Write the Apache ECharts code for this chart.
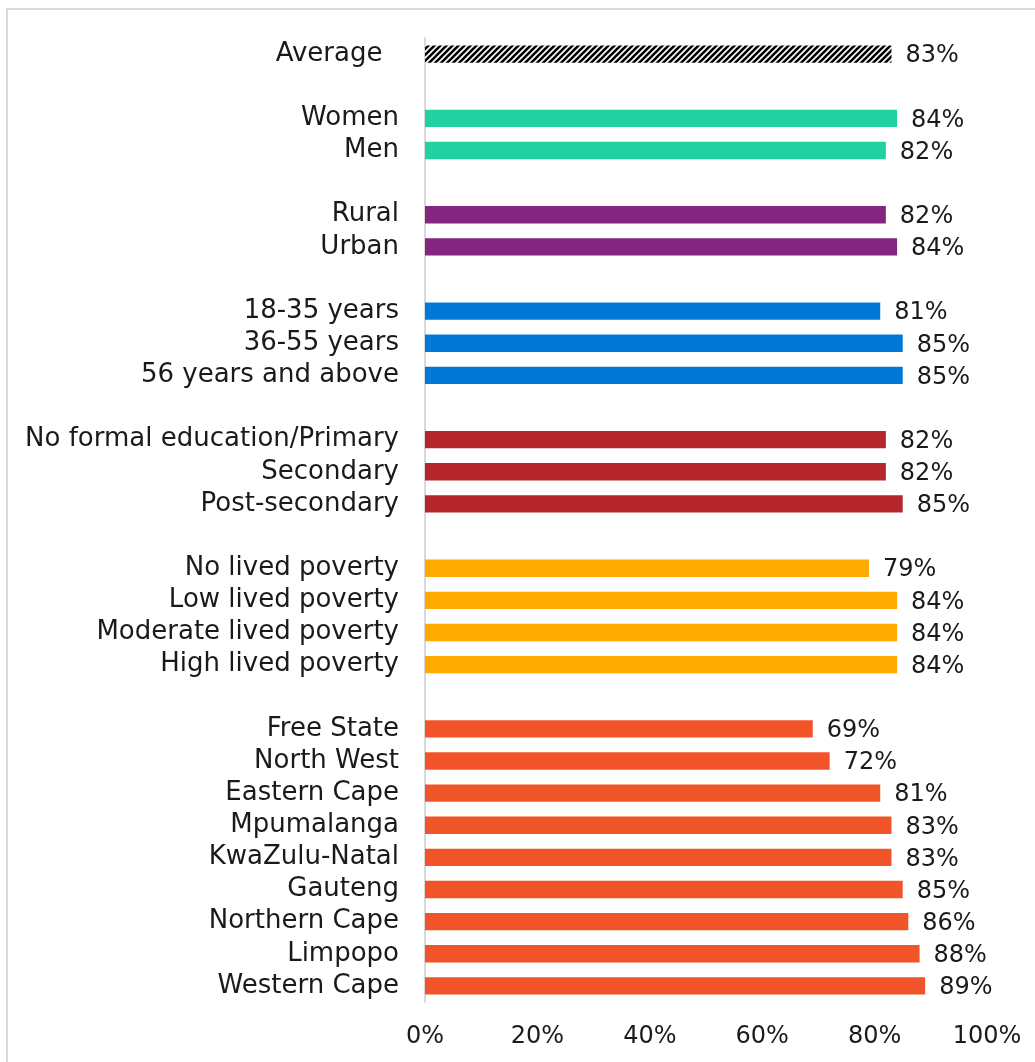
<!DOCTYPE html>
<html>
<head>
<meta charset="utf-8">
<script src="https://cdn.jsdelivr.net/npm/echarts@6/dist/echarts.min.js"></script>
<style>
  html, body { margin: 0; padding: 0; background: #fff; overflow: hidden; }
  #frame { position: absolute; left: 6px; top: 8px; width: 1100px; height: 1100px;
           border-left: 2px solid #d9d9d9; border-top: 2px solid #d9d9d9; }
  #chart { position: absolute; left: 0; top: 0; width: 1035px; height: 1062px; }
</style>
</head>
<body>
<div id="frame"></div>
<div id="chart"></div>
<script>
// Share of respondents, by group (%)
const averageLabels = ['Average'];
const averageValues = [83];

const genderLabels = ['Women', 'Men'];
const genderValues = [84, 82];

const settlementLabels = ['Rural', 'Urban'];
const settlementValues = [82, 84];

const ageLabels = ['18-35 years', '36-55 years', '56 years and above'];
const ageValues = [81, 85, 85];

const educationLabels = ['No formal education/Primary', 'Secondary', 'Post-secondary'];
const educationValues = [82, 82, 85];

const povertyLabels = ['No lived poverty', 'Low lived poverty', 'Moderate lived poverty', 'High lived poverty'];
const povertyValues = [79, 84, 84, 84];

const provinceLabels = ['Free State', 'North West', 'Eastern Cape', 'Mpumalanga', 'KwaZulu-Natal',
                        'Gauteng', 'Northern Cape', 'Limpopo', 'Western Cape'];
const provinceValues = [69, 72, 81, 83, 83, 85, 86, 88, 89];

const xTicks = [0, 20, 40, 60, 80, 100];

// Diagonal hatch used for the average bar
function hatchPattern() {
  const c = document.createElement('canvas');
  c.width = 6; c.height = 6;
  const g = c.getContext('2d');
  g.fillStyle = '#ffffff';
  g.fillRect(0, 0, 6, 6);
  g.strokeStyle = '#000000';
  g.lineWidth = 2.6;
  g.beginPath();
  g.moveTo(-1, 7); g.lineTo(7, -1);
  g.moveTo(-4, 4); g.lineTo(4, -4);
  g.moveTo(2, 10); g.lineTo(10, 2);
  g.stroke();
  return { image: c, repeat: 'repeat' };
}

const groups = [
  { labels: averageLabels, values: averageValues, color: hatchPattern() },
  { labels: genderLabels, values: genderValues, color: '#23D0A0' },
  { labels: settlementLabels, values: settlementValues, color: '#84267F' },
  { labels: ageLabels, values: ageValues, color: '#0078D7' },
  { labels: educationLabels, values: educationValues, color: '#B5262D' },
  { labels: povertyLabels, values: povertyValues, color: '#FFAA00' },
  { labels: provinceLabels, values: provinceValues, color: '#F2542A' }
];

// Flatten groups into one category list, with an empty row between groups
const categories = [];
const barData = [];
groups.forEach((grp, gi) => {
  if (gi > 0) {
    categories.push(' '.repeat(gi));
    barData.push('-');
  }
  grp.labels.forEach((name, i) => {
    categories.push(name);
    barData.push({ value: grp.values[i], itemStyle: { color: grp.color } });
  });
});

const FONT = 'DejaVu Sans';
const chart = echarts.init(document.getElementById('chart'), null, { renderer: 'canvas' });
chart.setOption({
  animation: false,
  backgroundColor: 'transparent',
  grid: { left: 425, right: 48, top: 38, bottom: 60, containLabel: false },
  xAxis: {
    type: 'value',
    min: xTicks[0],
    max: xTicks[xTicks.length - 1],
    interval: xTicks[1] - xTicks[0],
    axisLine: { show: false },
    axisTick: { show: false },
    splitLine: { show: false },
    axisLabel: {
      formatter: '{value}%',
      fontFamily: FONT,
      fontSize: 24,
      color: '#1a1a1a',
      margin: 23
    }
  },
  yAxis: {
    type: 'category',
    inverse: true,
    data: categories,
    axisLine: { show: true, lineStyle: { color: '#d9d9d9', width: 2 } },
    axisTick: { show: false },
    splitLine: { show: false },
    axisLabel: {
      interval: 0,
      fontFamily: FONT,
      fontSize: 26,
      color: '#1a1a1a',
      margin: 26,
      padding: [4, 0, 0, 0],
      formatter: v => (v === 'Average' ? v + '  ' : v)
    }
  },
  series: [{
    type: 'bar',
    data: barData,
    barWidth: '54%',
    label: {
      show: true,
      position: 'right',
      distance: 14,
      offset: [0, 2],
      formatter: '{c}%',
      fontFamily: FONT,
      fontSize: 24,
      color: '#1a1a1a'
    }
  }]
});
</script>
</body>
</html>
